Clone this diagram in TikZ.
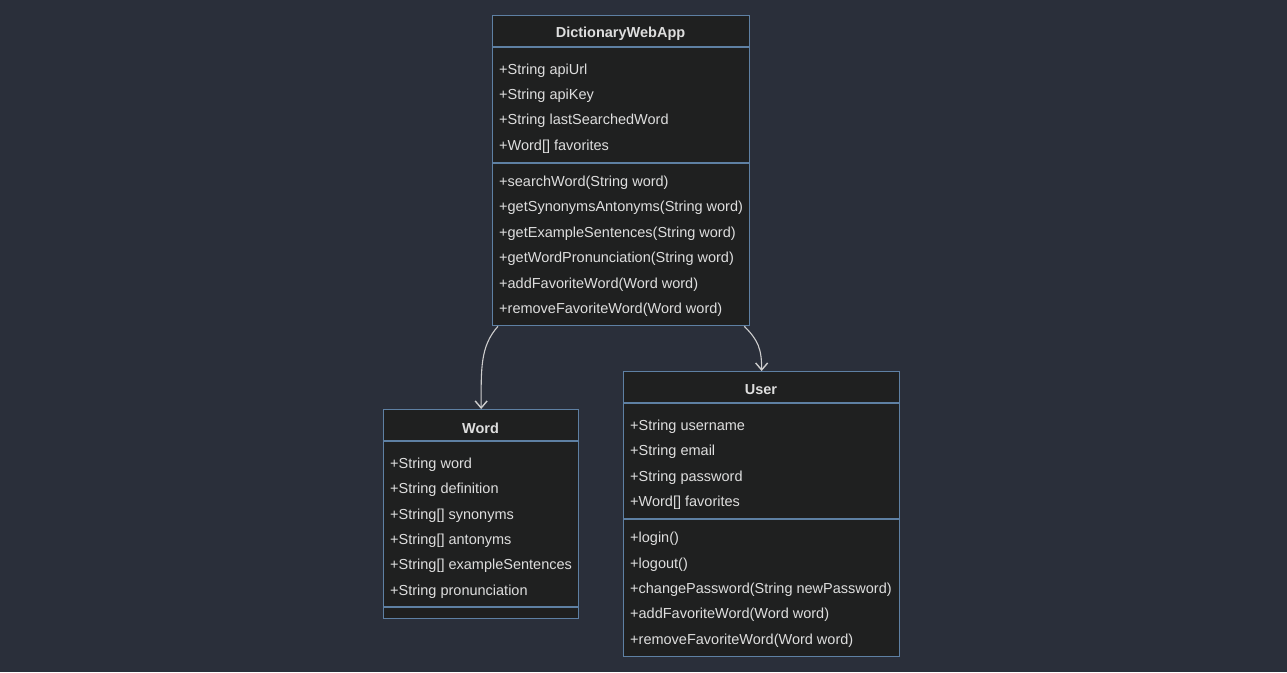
\documentclass[tikz,border=0pt]{standalone}
\usepackage{fontspec}
\setmainfont{Liberation Sans}
\usetikzlibrary{arrows.meta,calc}
\definecolor{canvas}{RGB}{42,47,58}
\definecolor{boxfill}{RGB}{31,32,32}
\definecolor{boxline}{RGB}{94,128,163}
\definecolor{ink}{RGB}{222,222,222}
\definecolor{linkcol}{RGB}{205,205,205}
\begin{document}
\begin{tikzpicture}[x=1pt,y=-1pt,
  classbox/.style={draw=boxline,fill=boxfill,line width=1.3pt,anchor=north west,inner sep=0pt},
  divider/.style={draw=boxline,line width=1.3pt},
  title/.style={text=ink,font=\fontsize{14.5}{17}\selectfont\bfseries,inner sep=0pt},
  member/.style={text=ink,font=\fontsize{14.5}{17}\selectfont,anchor=west,inner sep=0pt},
  link/.style={draw=linkcol,line width=1.1pt,-{Straight Barb[length=7pt,width=12pt,line width=1.4pt]}}]
\useasboundingbox (0,0) rectangle (1287,672);
\fill[canvas] (0,0) rectangle (1287,672);

% DictionaryWebApp
\node[classbox,minimum width=257pt,minimum height=310pt] (dwa) at (492,15) {};
\node[title] (dwaT) at (620.5,34) {DictionaryWebApp};
\draw[divider] (492,47) -- (749,47);
\draw[divider] (492,163) -- (749,163);
\node[member] (d1) at (499,71) {+String apiUrl};
\node[member] (d2) at (499,96) {+String apiKey};
\node[member] (d3) at (499,121) {+String lastSearchedWord};
\node[member] (d4) at (499,147) {+Word[] favorites};
\node[member] (d5) at (499,183) {+searchWord(String word)};
\node[member] (d6) at (499,208) {+getSynonymsAntonyms(String word)};
\node[member] (d7) at (499,234) {+getExampleSentences(String word)};
\node[member] (d8) at (499,259) {+getWordPronunciation(String word)};
\node[member] (d9) at (499,285) {+addFavoriteWord(Word word)};
\node[member] (d10) at (499,310) {+removeFavoriteWord(Word word)};

% Word
\node[classbox,minimum width=195pt,minimum height=209pt] (word) at (383,409) {};
\node[title] (wordT) at (480.5,428) {Word};
\draw[divider] (383,441) -- (578,441);
\draw[divider] (383,607) -- (578,607);
\node[member] (w1) at (390,465) {+String word};
\node[member] (w2) at (390,490) {+String definition};
\node[member] (w3) at (390,516) {+String[] synonyms};
\node[member] (w4) at (390,541) {+String[] antonyms};
\node[member] (w5) at (390,566) {+String[] exampleSentences};
\node[member] (w6) at (390,592) {+String pronunciation};

% User
\node[classbox,minimum width=276pt,minimum height=285pt] (user) at (623,371) {};
\node[title] (userT) at (761,390) {User};
\draw[divider] (623,403) -- (899,403);
\draw[divider] (623,519) -- (899,519);
\node[member] (u1) at (630,427) {+String username};
\node[member] (u2) at (630,452) {+String email};
\node[member] (u3) at (630,478) {+String password};
\node[member] (u4) at (630,503) {+Word[] favorites};
\node[member] (u5) at (630,539) {+login()};
\node[member] (u6) at (630,565) {+logout()};
\node[member] (u7) at (630,590) {+changePassword(String newPassword)};
\node[member] (u8) at (630,615) {+addFavoriteWord(Word word)};
\node[member] (u9) at (630,641) {+removeFavoriteWord(Word word)};

% associations
\draw[link] ($(dwa.south west)+(6,0)$) .. controls ($(dwa.south west)+(-12,20)$) and ($(word.north)+(0,-40)$) .. (word.north);
\draw[link] ($(dwa.south east)+(-6,0)$) .. controls ($(dwa.south east)+(8,14)$) and ($(user.north)+(0,-22)$) .. (user.north);
\end{tikzpicture}
\end{document}
